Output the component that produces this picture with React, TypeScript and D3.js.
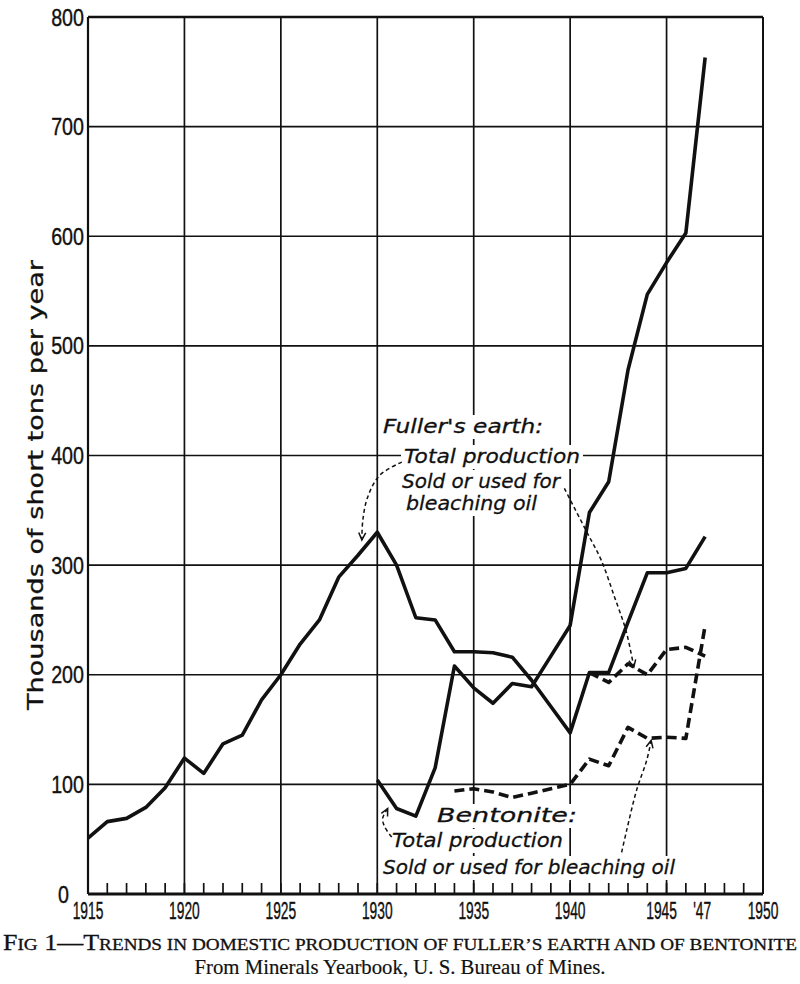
import React from "react";
import * as d3 from "d3";

// ---- Data (thousands of short tons per year) ----
const fullerYears = d3.range(1915, 1948);
const fullerTotal = [51, 66, 69, 79, 97, 124, 110, 137, 145, 177, 200, 228, 250, 289, 309, 330, 300, 252, 250, 221, 221, 220, 216, 195, 171, 147, 202, 202, 248, 293, 293, 297, 326];

const bentYears = d3.range(1930, 1948);
const bentTotal = [104, 78, 71, 115, 208, 188, 174, 192, 189, 217, 245, 348, 376, 478, 547, 576, 603, 763];

const fullerSoldYears = d3.range(1941, 1948);
const fullerSold = [202, 193, 210, 200, 223, 225, 217];

const bentSoldYears = d3.range(1934, 1948);
const bentSold = [94, 96, 93, 88, 92, 96, 100, 123, 117, 152, 142, 143, 142, 245];

const xTickValues = [1915, 1920, 1925, 1930, 1935, 1940, 1945, 1947, 1950];
const xTickLabels = ["1915", "1920", "1925", "1930", "1935", "1940", "1945", "'47", "1950"];
const yTickValues = [0, 100, 200, 300, 400, 500, 600, 700, 800];

// annotation leader curves, in data space [year, value]
const arrowFullerTotal: [number, number][] = [[1931.27, 394], [1930.13, 382], [1929.5, 362], [1929.25, 341], [1929.2, 323]];
const arrowFullerSold: [number, number][] = [[1939.7, 370], [1940.9, 329], [1941.6, 305], [1942.3, 271], [1942.9, 240], [1943.3, 207]];
const arrowBentTotal: [number, number][] = [[1930.75, 52], [1930.39, 61], [1930.28, 69], [1930.54, 78]];
const arrowBentSold: [number, number][] = [[1942.67, 38], [1942.93, 58], [1943.45, 95], [1943.97, 122], [1944.2, 140]];

export default function App() {
  const W = 800, H = 984;
  const x = d3.scaleLinear().domain([1915, 1950]).range([88, 763]);
  const y = d3.scaleLinear().domain([0, 800]).range([894, 17]);

  const line = d3.line<[number, number]>().x(d => x(d[0])).y(d => y(d[1]));
  const curve = d3.line<[number, number]>().x(d => x(d[0])).y(d => y(d[1])).curve(d3.curveCatmullRom);

  const zip = (xs: number[], vs: number[]) => xs.map((v, i) => [v, vs[i]] as [number, number]);

  const gridX = d3.range(1920, 1950, 5);
  const gridY = d3.range(100, 800, 100);
  const minorTicks = d3.range(1916, 1950).filter(v => v % 5 !== 0);

  const arrowHead = (pts: [number, number][]) => {
    const a = pts[pts.length - 2], b = pts[pts.length - 1];
    const x1 = x(a[0]), y1 = y(a[1]), x2 = x(b[0]), y2 = y(b[1]);
    const ang = Math.atan2(y2 - y1, x2 - x1);
    const L = 8, s = 0.45;
    const p1 = [x2 - L * Math.cos(ang - s), y2 - L * Math.sin(ang - s)];
    const p2 = [x2 - L * Math.cos(ang + s), y2 - L * Math.sin(ang + s)];
    return `M${p1[0]},${p1[1]}L${x2},${y2}L${p2[0]},${p2[1]}`;
  };

  const annoFont = "'DejaVu Sans', sans-serif";
  const labels = [
    { t: "Fuller's earth:", x: 383, y: 433, len: 160 },
    { t: "Total production", x: 404, y: 463, len: 176 },
    { t: "Sold or used for", x: 402, y: 488, len: 158 },
    { t: "bleaching oil", x: 406, y: 510, len: 131 },
    { t: "Bentonite:", x: 437, y: 822, len: 140 },
    { t: "Total production", x: 392, y: 847, len: 171 },
    { t: "Sold or used for bleaching oil", x: 383, y: 874, len: 292 },
  ];

  const arrows = [arrowFullerTotal, arrowFullerSold, arrowBentTotal, arrowBentSold];
  const tickFont = "'Liberation Sans', Arial, sans-serif";

  return (
    <svg width={W} height={H} style={{ position: "absolute", left: 0, top: 0, background: "#fff" }}>
      <rect x={0} y={0} width={W} height={H} fill="#fff" />
      {/* grid */}
      <g stroke="#111" strokeWidth={1.7}>
        {gridX.map(v => <line key={"gx" + v} x1={x(v)} x2={x(v)} y1={y(800)} y2={y(0)} />)}
        {gridY.map(v => <line key={"gy" + v} x1={x(1915)} x2={x(1950)} y1={y(v)} y2={y(v)} />)}
      </g>
      {/* frame */}
      <g stroke="#111" fill="none">
        <line x1={x(1915)} x2={x(1950)} y1={y(800)} y2={y(800)} strokeWidth={2.5} />
        <line x1={x(1915)} x2={x(1915)} y1={y(800)} y2={y(0)} strokeWidth={2.2} />
        <line x1={x(1950)} x2={x(1950)} y1={y(800)} y2={y(0)} strokeWidth={2} />
      </g>

      {/* label backgrounds */}
      {labels.map((l, i) => (
        <rect key={"bg" + i} x={l.x - 3} y={l.y - 18} width={l.len + 6} height={24} fill="#fff" />
      ))}

      {/* minor ticks and axis */}
      <g stroke="#111" strokeWidth={1.7}>
        {minorTicks.map(v => <line key={"t" + v} x1={x(v)} x2={x(v)} y1={y(0)} y2={y(0) - 11} />)}
        {gridX.map(v => <line key={"tg" + v} x1={x(v)} x2={x(v)} y1={y(0)} y2={y(0) - 11} />)}
      </g>
      <line x1={x(1915)} x2={x(1950)} y1={y(0)} y2={y(0)} stroke="#111" strokeWidth={3.2} />

      {/* data lines */}
      <g fill="none" stroke="#111" strokeWidth={3.6} strokeLinejoin="round">
        <path d={line(zip(fullerYears, fullerTotal)) || ""} />
        <path d={line(zip(bentYears, bentTotal)) || ""} />
        <path d={line(zip(fullerSoldYears, fullerSold)) || ""} strokeDasharray="10,5" />
        <path d={line(zip(bentSoldYears, bentSold)) || ""} strokeDasharray="10,5" />
      </g>

      {/* annotation leaders */}
      <g fill="none" stroke="#111" strokeWidth={1.5}>
        {arrows.map((a, i) => (
          <g key={"ar" + i}>
            <path d={curve(a) || ""} strokeDasharray="4,3" />
            <path d={arrowHead(a)} />
          </g>
        ))}
      </g>

      {/* annotation texts */}
      <g fontFamily={annoFont} fontStyle="italic" fontSize={20} fill="#111" stroke="#111" strokeWidth={0.3}>
        {labels.map((l, i) => (
          <text key={"lb" + i} x={l.x} y={l.y} textLength={l.len} lengthAdjust="spacingAndGlyphs">{l.t}</text>
        ))}
      </g>

      {/* y tick labels */}
      <g fontFamily={tickFont} fontSize={24} fill="#111" stroke="#111" strokeWidth={0.4}>
        {yTickValues.map(v => (
          <text key={"yl" + v} transform={`translate(${v === 0 ? 69 : 84},${y(v) + 8.5}) scale(0.82,1)`} textAnchor="end">{String(v)}</text>
        ))}
      </g>

      {/* x tick labels */}
      <g fontFamily={tickFont} fontSize={23} fill="#111" stroke="#111" strokeWidth={0.4}>
        {xTickValues.map((v, i) => {
          const cx = v === 1945 ? x(v) - 5 : v === 1947 ? x(v) - 3 : x(v);
          return (
            <text key={"xl" + v} transform={`translate(${cx},${919}) scale(0.6,1)`} textAnchor="middle">{xTickLabels[i]}</text>
          );
        })}
      </g>

      {/* y axis title */}
      <text transform="translate(43,485) rotate(-90)" textAnchor="middle" fontFamily="'DejaVu Sans', sans-serif"
        fontSize={21} fill="#111" stroke="#111" strokeWidth={0.3} textLength={450} lengthAdjust="spacingAndGlyphs">Thousands of short tons per year</text>

      {/* caption */}
      <text x={3} y={950} fontFamily="'Liberation Serif', 'DejaVu Serif', serif" fill="#111" stroke="#111" strokeWidth={0.3}
        textLength={794} lengthAdjust="spacingAndGlyphs">
        <tspan fontSize={23}>F</tspan><tspan fontSize={17}>IG</tspan><tspan fontSize={23}> 1—T</tspan>
        <tspan fontSize={17}>RENDS IN DOMESTIC PRODUCTION OF FULLER’S EARTH AND OF BENTONITE</tspan>
      </text>
      <text x={400} y={974} textAnchor="middle" fontFamily="'Liberation Serif', 'DejaVu Serif', serif" fontSize={22} fill="#111"
        stroke="#111" strokeWidth={0.2} textLength={411} lengthAdjust="spacingAndGlyphs">From Minerals Yearbook, U. S. Bureau of Mines.</text>
    </svg>
  );
}
